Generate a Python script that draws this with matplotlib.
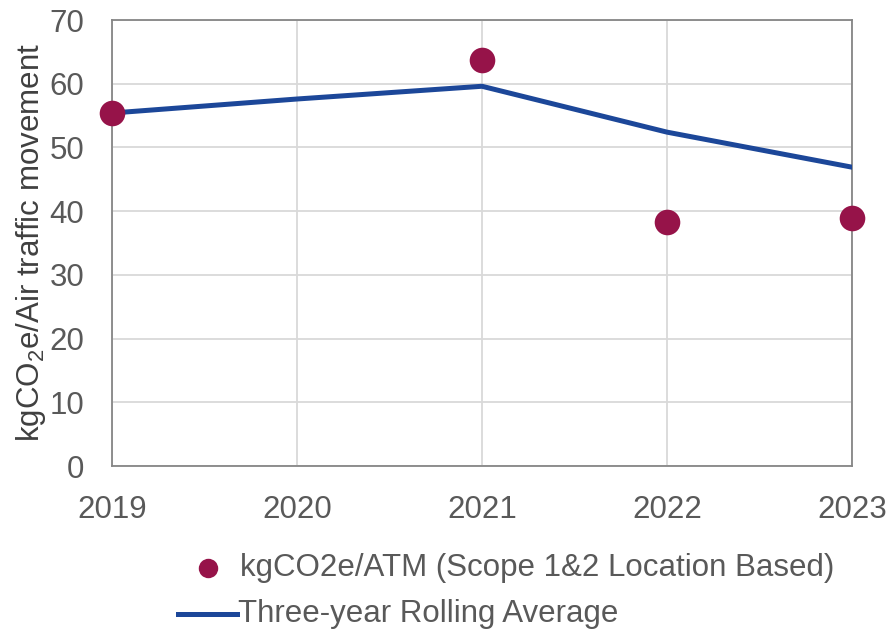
import matplotlib
matplotlib.use("Agg")
import matplotlib.pyplot as plt
from matplotlib.lines import Line2D

plt.rcParams['font.family'] = ['Liberation Sans', 'DejaVu Sans']
plt.rcParams['mathtext.fontset'] = 'custom'
plt.rcParams['mathtext.rm'] = 'Liberation Sans'
plt.rcParams['mathtext.it'] = 'Liberation Sans'

years = [2019, 2020, 2021, 2022, 2023]
point_years = [2019, 2021, 2022, 2023]
point_values = [55.4, 63.8, 38.3, 38.9]
rolling_avg = [55.4, 57.6, 59.6, 52.4, 46.9]
yticks = [0, 10, 20, 30, 40, 50, 60, 70]

dot_color = '#961349'
line_color = '#1c4799'
text_color = '#595959'
fs = 22.5

fig = plt.figure(figsize=(8.9, 6.32), dpi=100)
ax = fig.add_axes([112/890, 1-466/632, (852-112)/890, (466-20)/632])

ax.plot(years, rolling_avg, color=line_color, lw=3.6, zorder=3, solid_joinstyle='miter')
ax.scatter(point_years, point_values, s=340, color=dot_color, zorder=4, clip_on=False, linewidths=0)

ax.set_xlim(2019, 2023)
ax.set_ylim(0, 70)
ax.set_yticks(yticks)
ax.set_xticks(years)
ax.grid(True, color='#d9d9d9', lw=1.3)
ax.set_axisbelow(True)
for s in ax.spines.values():
    s.set_color('#868686')
    s.set_linewidth(1.3)
ax.tick_params(length=0, labelsize=fs, colors=text_color)
ax.tick_params(axis='y', pad=20)
ax.tick_params(axis='x', pad=21)
ax.set_ylabel(r'kgCO$_2$e/Air traffic movement', fontsize=fs, color='#404040', labelpad=1)

# legend (manual)
fig.add_artist(Line2D([208/890], [1-568/632], marker='o', markersize=14,
                      color=dot_color, markeredgewidth=0, linestyle='none'))
fig.text(240/890, 1-568/632, 'kgCO2e/ATM (Scope 1&2 Location Based)', fontsize=fs,
         color=text_color, va='center', ha='left')
fig.add_artist(Line2D([178/890, 237/890], [1-614/632, 1-614/632], color=line_color, lw=3.6))
fig.text(238/890, 1-614/632, 'Three-year Rolling Average', fontsize=fs,
         color=text_color, va='center', ha='left')

fig.savefig('out.png', dpi=100)
